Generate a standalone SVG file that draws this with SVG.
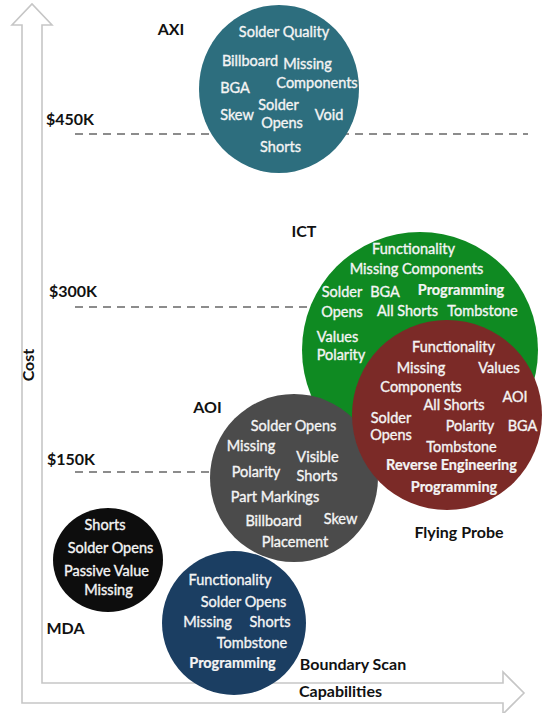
<svg xmlns="http://www.w3.org/2000/svg" width="542" height="713" viewBox="0 0 542 713">
  <style>
    .t { font-family: Lato, "Open Sans", "Liberation Sans", sans-serif; font-size: 14.5px; fill: #f4f4f4; stroke: #f4f4f4; stroke-width: 0.35px; text-anchor: middle; }
    .b { font-weight: bold; stroke-width: 0.2px; }
    .lbl { font-family: Lato, "Open Sans", "Liberation Sans", sans-serif; font-size: 16px; font-weight: bold; fill: #111111; }
    .mid { text-anchor: middle; }
    .level { stroke: #8c8c8c; stroke-width: 2; stroke-dasharray: 8 6; fill: none; }
  </style>

  <rect x="0" y="0" width="542" height="713" fill="#ffffff"/>

  <!-- L-shaped hollow arrow forming the cost and capability axes -->
  <g id="axes">
    <path d="M22,703 V25 H12 L32,4 L52,25 H42 V683 H503 V672 L524,693 L503,714 V703 Z"
          fill="#ffffff" stroke="#c6c6c6" stroke-width="1.6" stroke-linejoin="miter"/>
    <text class="lbl mid" transform="translate(34,365) rotate(-90)">Cost</text>
    <text class="lbl mid" x="340.5" y="697">Capabilities</text>
  </g>

  <!-- cost levels -->
  <g id="cost-levels">
    <line class="level" x1="75" y1="134" x2="528" y2="134"/>
    <line class="level" x1="75" y1="307" x2="330" y2="307"/>
    <line class="level" x1="75" y1="472" x2="230" y2="472"/>
    <text class="lbl" x="46" y="125">$450K</text>
    <text class="lbl" x="49" y="297">$300K</text>
    <text class="lbl" x="47" y="465">$150K</text>
  </g>

  <g id="axi">
    <ellipse cx="279" cy="89" rx="80" ry="84" fill="#2d6e7e"/>
    <text class="lbl mid" x="171" y="35">AXI</text>
    <text class="t" x="284" y="37">Solder Quality</text>
    <text class="t" x="250" y="66">Billboard</text>
    <text class="t" x="307.5" y="69">Missing</text>
    <text class="t" x="235" y="93">BGA</text>
    <text class="t" x="317" y="88">Components</text>
    <text class="t" x="278.5" y="110">Solder</text>
    <text class="t" x="237" y="120">Skew</text>
    <text class="t" x="329" y="120">Void</text>
    <text class="t" x="282" y="128">Opens</text>
    <text class="t" x="280.5" y="152">Shorts</text>
  </g>

  <g id="ict">
    <circle cx="420" cy="350" r="118" fill="#0f8a22"/>
    <text class="lbl mid" x="304" y="237">ICT</text>
    <text class="t" x="413.5" y="254">Functionality</text>
    <text class="t" x="416.5" y="274">Missing Components</text>
    <text class="t" x="342" y="297">Solder</text>
    <text class="t" x="385" y="297">BGA</text>
    <text class="t b" x="461" y="295">Programming</text>
    <text class="t" x="342" y="317">Opens</text>
    <text class="t" x="407.5" y="316">All Shorts</text>
    <text class="t" x="482.5" y="316">Tombstone</text>
    <text class="t" x="337.5" y="342">Values</text>
    <text class="t" x="341" y="360">Polarity</text>
  </g>

  <g id="mda">
    <ellipse cx="108" cy="560" rx="55" ry="52" fill="#0d0d0d"/>
    <text class="t" x="105" y="530">Shorts</text>
    <text class="t" x="110.5" y="553">Solder Opens</text>
    <text class="t" x="106.5" y="576">Passive Value</text>
    <text class="t" x="108.5" y="595">Missing</text>
    <text class="lbl mid" x="65.5" y="634">MDA</text>
  </g>

  <g id="boundary-scan">
    <circle cx="234" cy="623" r="72" fill="#1b3e62"/>
    <text class="t" x="230" y="585">Functionality</text>
    <text class="t" x="243.5" y="607">Solder Opens</text>
    <text class="t" x="207.5" y="627">Missing</text>
    <text class="t" x="270" y="627">Shorts</text>
    <text class="t" x="252" y="648">Tombstone</text>
    <text class="t b" x="232.5" y="668">Programming</text>
    <text class="lbl mid" x="353" y="670">Boundary Scan</text>
  </g>

  <g id="aoi">
    <circle cx="294" cy="478" r="84" fill="#4b4b4b"/>
    <text class="lbl mid" x="207.5" y="413">AOI</text>
    <text class="t" x="293.5" y="431">Solder Opens</text>
    <text class="t" x="251" y="451">Missing</text>
    <text class="t" x="317.5" y="462">Visible</text>
    <text class="t" x="256" y="477">Polarity</text>
    <text class="t" x="317" y="481">Shorts</text>
    <text class="t" x="275" y="502">Part Markings</text>
    <text class="t" x="273.5" y="526">Billboard</text>
    <text class="t" x="340.5" y="524">Skew</text>
    <text class="t" x="295" y="547">Placement</text>
  </g>

  <g id="flying-probe">
    <circle cx="447" cy="415" r="95" fill="#7b2a27"/>
    <text class="t" x="453.5" y="352">Functionality</text>
    <text class="t" x="421" y="373">Missing</text>
    <text class="t" x="499" y="373">Values</text>
    <text class="t" x="421" y="392">Components</text>
    <text class="t" x="515" y="402">AOI</text>
    <text class="t" x="454" y="410">All Shorts</text>
    <text class="t" x="391" y="423">Solder</text>
    <text class="t" x="470" y="431">Polarity</text>
    <text class="t" x="522.5" y="431">BGA</text>
    <text class="t" x="391" y="440">Opens</text>
    <text class="t" x="461.5" y="452">Tombstone</text>
    <text class="t b" x="451.5" y="470">Reverse Engineering</text>
    <text class="t b" x="454" y="492">Programming</text>
    <text class="lbl mid" x="459" y="538">Flying Probe</text>
  </g>
</svg>
